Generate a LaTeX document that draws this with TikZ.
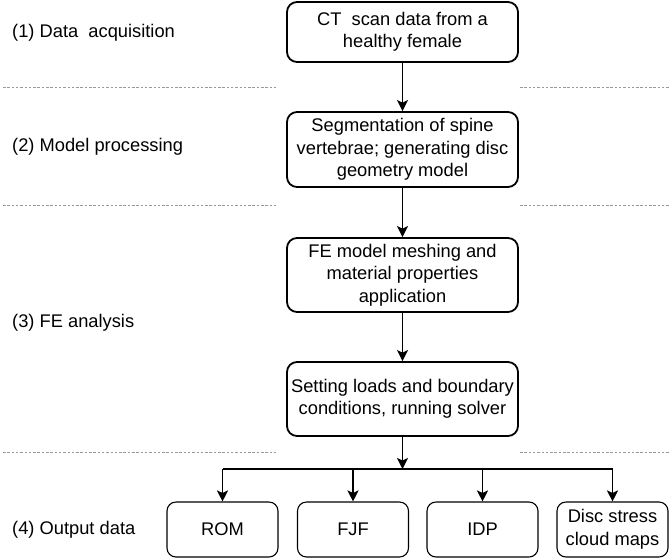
\documentclass[tikz,border=0pt]{standalone}
\usepackage{fontspec}
\setmainfont{Liberation Sans}
\usetikzlibrary{arrows.meta}
\begin{document}
\begin{tikzpicture}[x=1pt,y=-1pt,
  every node/.style={font=\fontsize{18.3}{22.5}\selectfont},
  mainbox/.style={draw=black, line width=1.8pt, rounded corners=10pt, align=center,
    minimum width=231pt, inner sep=0pt},
  outbox/.style={draw=black, line width=1.1pt, rounded corners=9pt, align=center,
    minimum width=111pt, minimum height=55pt, inner sep=0pt},
  sep/.style={draw=gray!80, line width=0.9pt, dash pattern=on 2.5pt off 1.8pt},
  arr/.style={draw=black, line width=1.8pt, -{Stealth[length=11pt,width=11pt,inset=2.5pt]}},
  lbl/.style={anchor=west, inner sep=0pt}]
\useasboundingbox (0,0) rectangle (669,558);

% left labels
\node[lbl] (l1) at (12,33) {(1) Data\ \ acquisition};
\node[lbl] (l2) at (12,147) {(2) Model processing};
\node[lbl] (l3) at (12,323) {(3) FE analysis};
\node[lbl] (l4) at (12,530) {(4) Output data};

% dashed separators
\coordinate (s1a) at (3,87);   \coordinate (s1b) at (278,87);
\coordinate (s1c) at (520,87); \coordinate (s1d) at (669,87);
\coordinate (s2a) at (3,205);  \coordinate (s2b) at (278,205);
\coordinate (s2c) at (520,205);\coordinate (s2d) at (669,205);
\coordinate (s3a) at (3,452);  \coordinate (s3b) at (278,452);
\coordinate (s3c) at (520,452);\coordinate (s3d) at (669,452);
\draw[sep] (s1a) -- (s1b);  \draw[sep] (s1c) -- (s1d);
\draw[sep] (s2a) -- (s2b);  \draw[sep] (s2c) -- (s2d);
\draw[sep] (s3a) -- (s3b);  \draw[sep] (s3c) -- (s3d);

% main boxes
\node[mainbox, minimum height=60pt] (b1) at (402.5,32) {CT\ \ scan data from a\\healthy female};
\node[mainbox, minimum height=75pt] (b2) at (402.5,149.5) {Segmentation of spine\\vertebrae; generating disc\\geometry model};
\node[mainbox, minimum height=74pt] (b3) at (402.5,275) {FE model meshing and\\material properties\\application};
\node[mainbox, minimum height=74pt] (b4) at (402.5,399) {Setting loads and boundary\\conditions, running solver};

% output boxes
\node[outbox] (o1) at (222.5,529.5) {ROM};
\node[outbox] (o2) at (353,529.5) {FJF};
\node[outbox] (o3) at (482.5,529.5) {IDP};
\node[outbox] (o4) at (612.5,529.5) {Disc stress\\cloud maps};

% connectors
\draw[arr] (b1) -- (b2);
\draw[arr] (b2) -- (b3);
\draw[arr] (b3) -- (b4);
\coordinate (j) at (402.5,469);
\draw[arr] (b4.south) -- (j);
\draw[line width=1.8pt] (o1.north |- j) -- (o4.north |- j);
\draw[arr] (o1.north |- j) -- (o1.north);
\draw[arr] (o2.north |- j) -- (o2.north);
\draw[arr] (o3.north |- j) -- (o3.north);
\draw[arr] (o4.north |- j) -- (o4.north);
\end{tikzpicture}
\end{document}
